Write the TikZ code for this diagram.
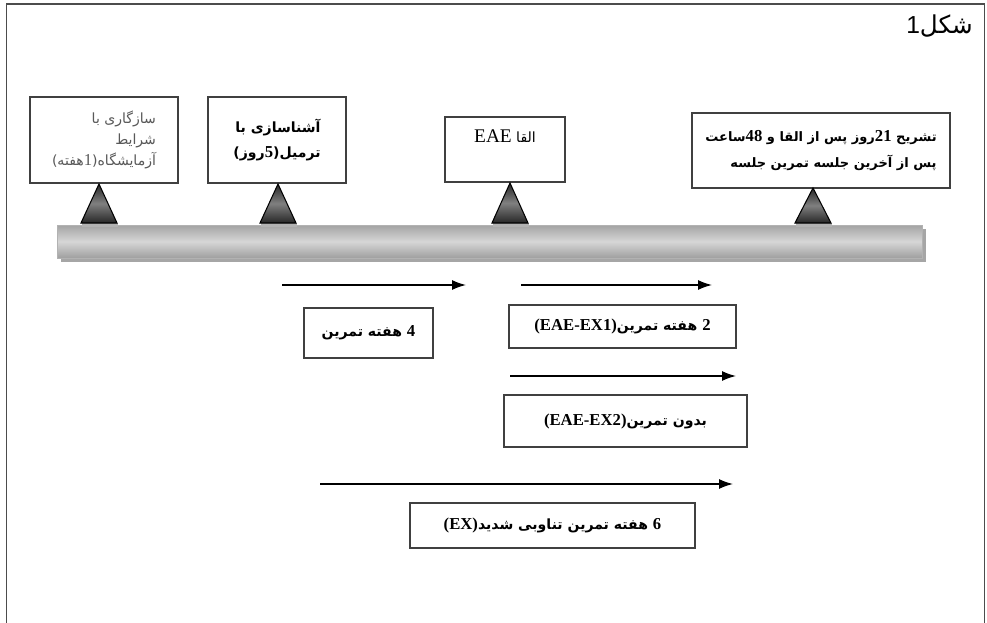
\documentclass[tikz,border=0pt]{standalone}
\usepackage{fontspec}
\usepackage{tikz}
\usetikzlibrary{arrows.meta}
\TeXXeTstate=1
\setmainfont{Liberation Serif}
\newfontfamily\arabicfont[Script=Arabic]{DejaVu Sans}
\newfontfamily\titlefont{Liberation Sans}
\newcommand{\rtltext}[1]{{\arabicfont\beginR #1\endR}}
\newcommand{\ltrtext}[1]{\beginL{\rmfamily\bfseries\fontsize{9.5}{12}\selectfont #1}\endL}

\begin{document}
\begin{tikzpicture}[x=0.2mm, y=-0.2mm,
    stagebox/.style={rectangle, draw=black!75, line width=0.6pt, fill=white, align=right, font=\fontsize{8}{12}\selectfont},
    groupbox/.style={rectangle, draw=black!75, line width=0.6pt, fill=white, align=center, font=\fontsize{8}{12}\selectfont\bfseries},
    arrow/.style={-{Latex[length=2.8mm,width=2mm]}, line width=0.8pt},
    cone/.style={draw=black, line width=0.6pt, top color=black!85, bottom color=black!85, middle color=black!50}
]
\clip (0,0) rectangle (987,623);
% frame
\draw[line width=1.1pt, black!70] (6.5,640) -- (6.5,4) -- (984.5,4) -- (984.5,640);
\node[anchor=east, font=\fontsize{14}{16}\selectfont] (title) at (979,26) {\rtltext{شکل{\titlefont 1}}};

% the bar
\fill[black!35] (61,229) rectangle (926,262);
\shade[draw=gray!60, top color=gray!72, bottom color=gray!75, middle color=gray!32] (57,225) rectangle (922,258);

% boxes above the bar
\node[stagebox, text=black!65, minimum width=29.6mm, minimum height=17.2mm] (adapt) at (104,140)
  {\rtltext{سازگاری با}\\\rtltext{شرایط}\\\rtltext{آزمایشگاه(\ltrtext{\mdseries 1}هفته)}};
\node[stagebox, font=\fontsize{8}{14}\selectfont\bfseries, minimum width=27.6mm, minimum height=17.2mm] (treadmill) at (277,140)
  {\rtltext{آشناسازی با}\\\rtltext{ترمیل(\ltrtext{5}روز)}};
\node[groupbox, font=\fontsize{8}{12}\selectfont, minimum width=24mm, minimum height=13mm] (induce) at (505,149.5)
  {\rtltext{القا \ltrtext{\mdseries\fontsize{11}{12}\selectfont EAE}}\\[1mm]\mbox{}};
\node[stagebox, font=\fontsize{7.4}{15}\selectfont\bfseries, minimum width=51.6mm, minimum height=15mm] (autopsy) at (821,150.5)
  {\rtltext{تشریح \ltrtext{21}روز پس از القا و \ltrtext{48}ساعت}\\\rtltext{پس از آخرین جلسه تمرین جلسه}};

% cones
\fill[black!30] (82,223) rectangle (118,227);
\fill[black!30] (261,223) rectangle (297,227);
\fill[black!30] (493,223) rectangle (529,227);
\fill[black!30] (796,223) rectangle (832,227);
\shade[cone] (81,223) -- (99,184) -- (117,223) -- cycle;
\shade[cone] (260,223) -- (278,184) -- (296,223) -- cycle;
\shade[cone] (492,223) -- (510,183) -- (528,223) -- cycle;
\shade[cone] (795,223) -- (813,188) -- (831,223) -- cycle;

% timeline arrows
\coordinate (fourstart) at (282,285);
\coordinate (fourend) at (466,285);
\coordinate (ex1start) at (521,285);
\coordinate (ex1end) at (712,285);
\coordinate (ex2start) at (510,376);
\coordinate (ex2end) at (736,376);
\coordinate (hiitstart) at (320,484);
\coordinate (hiitend) at (733,484);
\draw[arrow] (fourstart) -- (fourend);
\draw[arrow] (ex1start) -- (ex1end);
\draw[arrow] (ex2start) -- (ex2end);
\draw[arrow] (hiitstart) -- (hiitend);

% group boxes
\node[groupbox, minimum width=25.8mm, minimum height=10mm] (fourweeks) at (368.5,333)
  {\rtltext{\ltrtext{4} هفته تمرین}};
\node[groupbox, minimum width=45.4mm, minimum height=8.6mm] (exone) at (622.5,326.5)
  {\rtltext{\ltrtext{2} هفته تمرین\ltrtext{(EAE-EX1)}}};
\node[groupbox, minimum width=48.6mm, minimum height=10.4mm] (extwo) at (625.5,421)
  {\rtltext{بدون تمرین\ltrtext{(EAE-EX2)}}};
\node[groupbox, minimum width=57mm, minimum height=9mm] (hiit) at (552.5,525.5)
  {\rtltext{\ltrtext{6} هفته تمرین تناوبی شدید\ltrtext{(EX)}}};
\end{tikzpicture}
\end{document}
